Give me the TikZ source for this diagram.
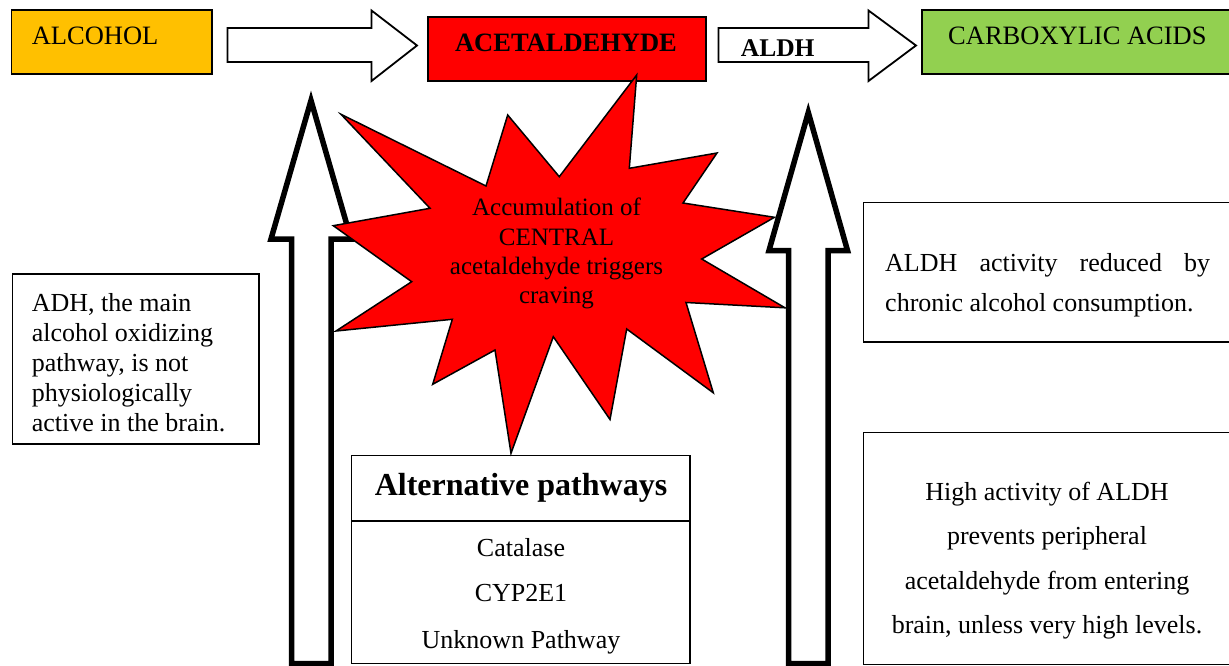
\documentclass[tikz,border=0pt]{standalone}
\usepackage{fontspec}
\setmainfont{Liberation Serif}
\definecolor{alcfill}{HTML}{FFC000}
\definecolor{acered}{HTML}{FF0000}
\definecolor{acidgreen}{HTML}{92D050}
\begin{document}
\begin{tikzpicture}[x=1pt,y=-1pt,
  lbl/.style={inner sep=0pt, font=\fontsize{26}{30}\selectfont},
  hdr/.style={inner sep=0pt, font=\fontsize{26.5}{30}\selectfont},
  burstlbl/.style={inner sep=0pt, font=\fontsize{25}{29}\selectfont},
  box/.style={draw=black, line width=1.8pt},
  flatarrow/.style={draw=black, line width=1.8pt, fill=white, line join=miter},
  bigarrow/.style={draw=black, line width=5.5pt, fill=white, line join=miter, miter limit=20},
  burst/.style={draw=black, line width=1.5pt, fill=acered, line join=miter, miter limit=20}
]
\useasboundingbox (0,0) rectangle (1229,666);
\clip (0,0) rectangle (1229,666);

% ---- top row: metabolic chain ----
\draw[box, fill=alcfill] (11.5,10) rectangle (212,74);
\draw[box, line width=1.5pt, fill=acered] (428,17) rectangle (706,81);
\draw[box, fill=acidgreen] (922,10) rectangle (1240,74);

\node[hdr, anchor=base west] (alcohol) at (31.6,45) {ALCOHOL};
\node[hdr, anchor=base, font=\fontsize{26.5}{30}\selectfont\bfseries] (acetald) at (566,51.5) {ACETALDEHYDE};
\node[hdr, anchor=base west] (acids) at (948,45) {CARBOXYLIC ACIDS};

% block arrows between the stages
\draw[flatarrow] (227.5,28) -- (371.5,28) -- (371.5,10.5) -- (417,45.5)
  -- (371.5,81) -- (371.5,62) -- (227.5,62) -- cycle;
\draw[flatarrow] (718.5,28) -- (868.5,28) -- (868.5,10.5) -- (916,45.5)
  -- (868.5,81) -- (868.5,62) -- (718.5,62) -- cycle;
\node[inner sep=0pt, anchor=base west, font=\fontsize{25.5}{30}\selectfont\bfseries] (aldh) at (740.7,56.7) {ALDH};

% ---- side notes ----
\draw[box] (12.5,274) rectangle (259,444);
\node[lbl, anchor=base west] (adh1) at (31.7,311.5) {ADH, the main};
\node[lbl, anchor=base west] (adh2) at (31.7,341.5) {alcohol oxidizing};
\node[lbl, anchor=base west] (adh3) at (31.7,371.5) {pathway, is not};
\node[lbl, anchor=base west] (adh4) at (31.7,401.5) {physiologically};
\node[lbl, anchor=base west] (adh5) at (31.7,431) {active in the brain.};

\draw[box, line width=1.5pt] (863.5,202.5) rectangle (1240,342);
\node[lbl, anchor=base west] (red1) at (885,271.7) {\makebox[325pt][s]{ALDH activity reduced by}};
\node[lbl, anchor=base west] (red2) at (885,311.7) {chronic alcohol consumption.};

\draw[box, line width=1.5pt] (863.5,432.5) rectangle (1240,664.5);
\node[lbl, anchor=base] (hi1) at (1047,500) {High activity of ALDH};
\node[lbl, anchor=base] (hi2) at (1047,544.5) {prevents peripheral};
\node[lbl, anchor=base] (hi3) at (1047,589) {acetaldehyde from entering};
\node[lbl, anchor=base] (hi4) at (1047,633.5) {brain, unless very high levels.};

% ---- alternative pathways table ----
\draw[box] (351.5,455.5) rectangle (690,663.5);
\draw[box] (351.5,521) -- (690,521);
\node[inner sep=0pt, anchor=base, font=\fontsize{32}{36}\selectfont\bfseries] (alttitle) at (521,495) {Alternative pathways};
\node[lbl, anchor=base] (cat) at (521,556) {Catalase};
\node[lbl, anchor=base] (cyp) at (521,601.7) {CYP2E1};
\node[lbl, anchor=base] (unk) at (521,648) {Unknown Pathway};

% ---- upward block arrows ----
\draw[bigarrow] (311,100.5) -- (351,239) -- (331,239) -- (331,663.5) -- (291.5,663.5)
  -- (291.5,239) -- (271,239) -- cycle;

% ---- craving burst ----
\draw[burst] (636.7,75) -- (559.3,176.7) -- (507.7,115) -- (486,186) -- (341,114.3)
  -- (430,208.3) -- (333.3,225.7) -- (411.7,281.7) -- (336,331) -- (452.3,319.3)
  -- (432.7,384.3) -- (495,350) -- (511,453.3) -- (553.3,336.7) -- (610,419.5)
  -- (626.7,329) -- (713.3,392.8) -- (686,302.5) -- (785,307.8) -- (701.7,259)
  -- (774.5,217.3) -- (683,203) -- (717,153) -- (629.3,168.3) -- cycle;
\node[burstlbl, anchor=base] (cr1) at (556.5,215) {Accumulation of};
\node[burstlbl, anchor=base] (cr2) at (556.5,245) {CENTRAL};
\node[burstlbl, anchor=base] (cr3) at (556.5,274.5) {acetaldehyde triggers};
\node[burstlbl, anchor=base] (cr4) at (556.5,303.5) {craving};

\draw[bigarrow] (808.3,112.5) -- (847.5,250.5) -- (828,250.5) -- (828,663.5) -- (788.7,663.5)
  -- (788.7,250.5) -- (769,250.5) -- cycle;
\end{tikzpicture}
\end{document}
